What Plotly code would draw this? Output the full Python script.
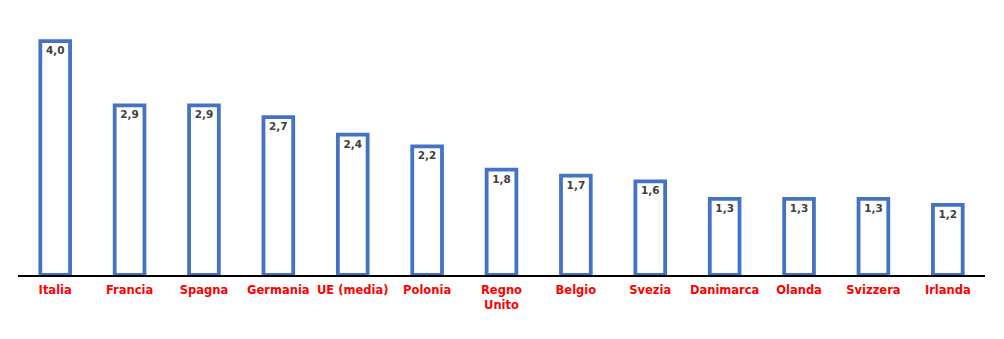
import plotly.graph_objects as go

# Categories and values
paesi = ["Italia", "Francia", "Spagna", "Germania", "UE (media)", "Polonia",
         "Regno<br>Unito", "Belgio", "Svezia", "Danimarca", "Olanda", "Svizzera", "Irlanda"]
valori = [4.0, 2.9, 2.9, 2.7, 2.4, 2.2, 1.8, 1.7, 1.6, 1.3, 1.3, 1.3, 1.2]
etichette = [f"{v:.1f}".replace(".", ",") for v in valori]

fig = go.Figure(
    go.Bar(
        x=paesi,
        y=valori,
        text=etichette,
        textposition="inside",
        insidetextanchor="end",
        constraintext="none",
        textangle=0,
        textfont=dict(family="DejaVu Sans", size=10.5, color="#404040", weight="bold"),
        marker=dict(color="white", line=dict(color="#4472C4", width=3.8)),
        hoverinfo="skip",
    )
)

fig.update_layout(
    width=1004,
    height=339,
    margin=dict(l=18, r=19, t=20, b=64),
    paper_bgcolor="white",
    plot_bgcolor="white",
    bargap=0.6,
    showlegend=False,
    xaxis=dict(
        showline=True,
        linecolor="black",
        linewidth=2,
        showgrid=False,
        ticks="",
        tickfont=dict(family="DejaVu Sans", size=11.5, color="#FF0000", weight="bold"),
        ticklabelstandoff=3,
    ),
    yaxis=dict(
        range=[0, 4.36],
        showgrid=False,
        zeroline=False,
        showticklabels=False,
        showline=False,
    ),
)

fig.write_html("out.html")
